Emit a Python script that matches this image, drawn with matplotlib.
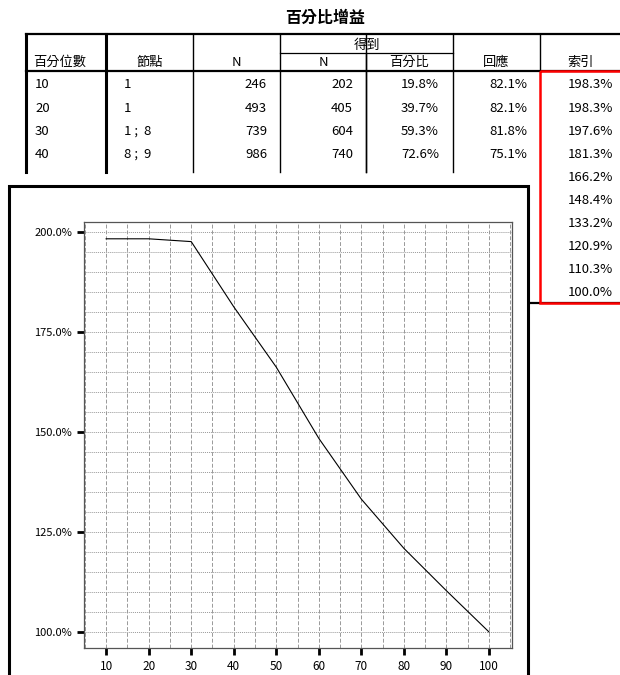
"""
percentile gains table with index chart laid over it
"""
import matplotlib.pyplot as plt
from matplotlib.patches import Rectangle
from matplotlib.ticker import MultipleLocator, FuncFormatter

plt.rcParams["font.family"] = ["Noto Sans CJK TC", "DejaVu Sans"]

# table data
title = "百分比增益"
headers = ["百分位數", "節點", "N", "N", "百分比", "回應", "索引"]
group_header = "得到"
percentiles = [10, 20, 30, 40, 50, 60, 70, 80, 90, 100]
nodes = ["1", "1", "1 ;  8", "8 ;  9"]
n_total = [246, 493, 739, 986]
n_gain = [202, 405, 604, 740]
pct_gain = [19.8, 39.7, 59.3, 72.6]
response = [82.1, 82.1, 81.8, 75.1]
index_values = [198.3, 198.3, 197.6, 181.3, 166.2, 148.4, 133.2, 120.9, 110.3, 100.0]

# layout in pixels
W, H = 620, 675
col_x = [26, 106, 193, 280, 366, 453, 540]
top_y, sub_y, head_y = 34, 53, 71
row_y0, row_dy = 85, 23.1
table_bottom = 172
fs = 9.5

fig = plt.figure(figsize=(W / 100, H / 100), dpi=100)
bg = fig.add_axes([0, 0, 1, 1])
bg.set_xlim(0, W)
bg.set_ylim(H, 0)
bg.axis("off")

bg.text(325, 18, title, ha="center", va="center", fontsize=11.5, fontweight="bold")

# table lines
bg.plot([col_x[0], W], [top_y, top_y], color="black", lw=1.6)
bg.plot([col_x[0], W], [head_y, head_y], color="black", lw=1.6)
bg.plot([col_x[3], col_x[5]], [sub_y, sub_y], color="black", lw=0.9)
for i, x in enumerate(col_x):
    lw = 2.2 if i < 2 else 1.0
    bottom = head_y if i == 6 else table_bottom
    bg.plot([x, x], [top_y, bottom], color="black", lw=lw)
bg.plot([col_x[4], col_x[4]], [sub_y, table_bottom], color="black", lw=1.0)
bg.plot([528, W], [303, 303], color="black", lw=1.6)

# headers
head_text_y = 62
bg.text(33, head_text_y, headers[0], ha="left", va="center", fontsize=fs)
for i in range(1, 7):
    cx = (col_x[i] + (col_x[i + 1] if i < 6 else W)) / 2
    bg.text(cx, head_text_y, headers[i], ha="center", va="center", fontsize=fs)
bg.text((col_x[3] + col_x[5]) / 2, 45, group_header, ha="center", va="center", fontsize=fs)

# rows
for r in range(len(nodes)):
    y = row_y0 + r * row_dy
    bg.text(35, y, str(percentiles[r]), ha="left", va="center", fontsize=fs)
    bg.text(124, y, nodes[r], ha="left", va="center", fontsize=fs)
    bg.text(col_x[3] - 13, y, str(n_total[r]), ha="right", va="center", fontsize=fs)
    bg.text(col_x[4] - 13, y, str(n_gain[r]), ha="right", va="center", fontsize=fs)
    bg.text(col_x[5] - 14, y, f"{pct_gain[r]:.1f}%", ha="right", va="center", fontsize=fs)
    bg.text(col_x[6] - 13, y, f"{response[r]:.1f}%", ha="right", va="center", fontsize=fs)
for r, v in enumerate(index_values):
    y = row_y0 + r * row_dy
    bg.text(613, y, f"{v:.1f}%", ha="right", va="center", fontsize=fs)

# red highlight box
bg.add_patch(Rectangle((540, head_y), 100, 303 - head_y, fill=False,
                       edgecolor="red", lw=1.8, zorder=5))

# chart panel over the table
bg.add_patch(Rectangle((9, 186), 519, 520, facecolor="white",
                       edgecolor="black", lw=2.2, zorder=6))

# chart axes
left, right, top, bottom = 84, 512, 222, 648
ax = fig.add_axes([left / W, 1 - bottom / H, (right - left) / W, (bottom - top) / H])
ax.set_zorder(10)
ax.plot(percentiles, index_values, color="black", lw=0.8)
ax.set_xlim(4.8, 105.4)
ax.set_ylim(96.0, 202.5)

ax.xaxis.set_major_locator(MultipleLocator(10))
ax.xaxis.set_minor_locator(MultipleLocator(5))
ax.yaxis.set_major_locator(MultipleLocator(25))
ax.yaxis.set_minor_locator(MultipleLocator(5))
ax.yaxis.set_major_formatter(FuncFormatter(lambda v, p: f"{v:.1f}%"))
ax.set_xticks([10, 20, 30, 40, 50, 60, 70, 80, 90, 100])

ax.grid(axis="x", which="both", color="#999999", ls=(0, (4, 2)), lw=0.7)
ax.grid(axis="y", which="both", color="#999999", ls=(0, (1, 1)), lw=0.7)
ax.tick_params(which="major", direction="out", length=5, width=2, labelsize=8,
               color="black")
ax.tick_params(axis="x", labelsize=8.5)
ax.tick_params(which="minor", length=0)
for s in ax.spines.values():
    s.set_color("#555555")
    s.set_linewidth(0.9)

fig.savefig("out.png", dpi=100)
